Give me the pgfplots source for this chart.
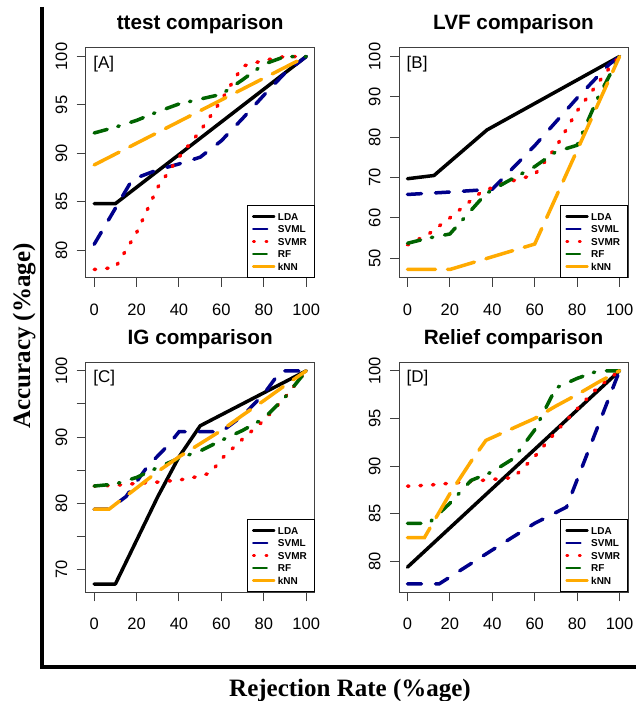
\documentclass[border=0pt]{standalone}
\usepackage{fontspec}
\setmainfont{Liberation Serif}
\setsansfont{Liberation Sans}
\usepackage{pgfplots}
\pgfplotsset{compat=1.18}

\definecolor{rblue}{RGB}{0,0,139}
\definecolor{rgreen}{RGB}{0,100,0}
\definecolor{rorange}{RGB}{255,170,0}

\pgfplotsset{
  rpanel/.style={
    scale only axis, width=229pt, height=230pt,
    xmin=-4, xmax=104, xtick={0,20,40,60,80,100},
    axis line style={draw=black!75, line width=1pt},
    tick style={draw=black!75, line width=1pt},
    tick align=outside, major tick length=9pt,
    xtick pos=bottom, ytick pos=left,
    /pgf/number format/assume math mode=true,
    ticklabel style={font=\sffamily\fontsize{16.5}{16.5}\selectfont},
    yticklabel style={rotate=90, anchor=south},
    xticklabel shift=13pt, yticklabel shift=6pt,
    title style={font=\sffamily\bfseries\fontsize{20.7}{20.7}\selectfont,
      at={(0.5,1)}, anchor=base, yshift=12pt},
    legend cell align=left,
    legend style={at={(1,0)}, anchor=south east, draw=black, line width=0.8pt,
      font=\sffamily\bfseries\fontsize{10}{10}\selectfont,
      nodes={inner sep=2.5pt, text height=7.5pt, text depth=0pt},
      inner xsep=5pt, inner ysep=5pt, row sep=0pt},
    legend image code/.code={\draw[#1, line width=2.4pt] (0pt,0pt) -- (21pt,0pt);},
  },
  lda/.style={black, line width=3.5pt, line cap=round, line join=round},
  svml/.style={rblue, line width=3.5pt, line cap=round, dash pattern=on 14pt off 14pt},
  svmr/.style={red, line width=3.5pt, line cap=round, dash pattern=on 1.5pt off 11pt},
  rf/.style={rgreen, line width=3.5pt, line cap=round, dash pattern=on 13.5pt off 11pt on 1.5pt off 12pt},
  knn/.style={rorange, line width=3.5pt, line cap=round, dash pattern=on 28pt off 12pt},
}

\newcommand{\panellabel}[1]{\node[anchor=north west, inner sep=0pt, xshift=7.5pt, yshift=-7.5pt,
  font=\sffamily\fontsize{17}{17}\selectfont] at (rel axis cs:0,1) {#1};}

\begin{document}
\begin{tikzpicture}[x=1pt, y=1pt]
\useasboundingbox (0,0) rectangle (636,701);

% outer frame
\draw[line width=4pt] (42,694) -- (42,34) -- (636,34);
\node[font=\bfseries\fontsize{25}{25}\selectfont, anchor=base] at (350,5) {Rejection Rate (\%age)};
\node[font=\bfseries\fontsize{25}{25}\selectfont, rotate=90, anchor=base] at (30,365) {Accuracy (\%age)};

% [A] ttest
\begin{axis}[rpanel, at={(85.7pt,423pt)}, anchor=south west,
  ymin=77.12, ymax=100.88, ytick={80,85,90,95,100},
  title={ttest comparison}]
\addplot[lda] coordinates {(0,84.8)(10,84.8)(100,100)};
\addplot[svml] coordinates {(0,80.6)(18,87.3)(30,88.3)(40,88.9)(50,89.6)(60,91.3)(70,93.6)(80,96.0)(90,98.3)(100,100)};
\addplot[svmr] coordinates {(0,78.0)(10,78.2)(20,81.8)(30,86.5)(40,89.6)(50,92.3)(60,95.5)(70,99.0)(80,99.6)(90,100)(100,100)};
\addplot[rf] coordinates {(0,92.1)(10,92.7)(20,93.4)(30,94.3)(40,95.1)(50,95.6)(60,96.1)(70,97.6)(80,99.2)(90,100)(100,100)};
\addplot[knn] coordinates {(0,88.8)(100,100)};
\legend{LDA,SVML,SVMR,RF,kNN}
\panellabel{[A]}
\end{axis}

% [B] LVF
\begin{axis}[rpanel, at={(399pt,423pt)}, anchor=south west,
  ymin=45.09, ymax=102.11, ytick={50,60,70,80,90,100},
  title={LVF comparison}]
\addplot[lda] coordinates {(0,69.7)(12.5,70.5)(37.5,81.8)(100,100)};
\addplot[svml] coordinates {(0,65.8)(20,66.4)(40,67.1)(60,77.9)(80,89.7)(95,98)(100,100)};
\addplot[svmr] coordinates {(0,53.3)(10,56)(20,60)(35,66.5)(45,68.5)(60,70.7)(70,77.5)(80,86.5)(95,97)(100,100)};
\addplot[rf] coordinates {(0,53.7)(10,55)(20,56)(37,66)(47,69)(60,72.7)(70,76.4)(80,78)(90,90)(100,100)};
\addplot[knn] coordinates {(0,47.2)(20,47.2)(60,53.5)(100,100)};
\legend{LDA,SVML,SVMR,RF,kNN}
\panellabel{[B]}
\end{axis}

% [C] IG
\begin{axis}[rpanel, at={(85.7pt,108.7pt)}, anchor=south west,
  ymin=66.55, ymax=101.29, ytick={70,75,80,85,90,95,100},
  yticklabels={70,,80,,90,,100},
  title={IG comparison}]
\addplot[lda] coordinates {(0,67.8)(10,67.8)(30,81)(40,87)(50,91.7)(100,100)};
\addplot[svml] coordinates {(0,79.1)(7,79.1)(15,81)(25,85.5)(35,88.8)(40,90.8)(60,90.8)(70,93.2)(80,96.5)(88,100)(100,100)};
\addplot[svmr] coordinates {(0,82.6)(10,82.7)(20,83)(30,83.2)(40,83.5)(50,84.1)(55,84.6)(60,86.7)(70,89.7)(80,92.5)(90,96)(100,100)};
\addplot[rf] coordinates {(0,82.6)(10,82.9)(20,83.9)(30,85.4)(40,86.8)(50,87.9)(60,89.5)(70,91)(80,92.8)(90,96)(100,100)};
\addplot[knn] coordinates {(0,79.1)(7,79.1)(20,82.3)(30,84.8)(40,87)(50,89)(60,91)(70,93.3)(80,95.5)(90,97.8)(100,100)};
\legend{LDA,SVML,SVMR,RF,kNN}
\panellabel{[C]}
\end{axis}

% [D] Relief
\begin{axis}[rpanel, at={(399pt,108.7pt)}, anchor=south west,
  ymin=76.76, ymax=100.89, ytick={80,85,90,95,100},
  title={Relief comparison}]
\addplot[lda] coordinates {(0,79.4)(100,100)};
\addplot[svml] coordinates {(0,77.65)(15,77.65)(40,81.2)(60,84)(75,85.7)(100,100)};
\addplot[svmr] coordinates {(0,87.9)(10,88)(20,88.2)(30,88.4)(40,88.6)(50,88.8)(60,91)(70,93.6)(80,96)(90,98.3)(100,100)};
\addplot[rf] coordinates {(0,84)(10,84)(20,86.1)(30,88.5)(40,89.4)(50,90.8)(60,93.8)(70,98.2)(80,99.2)(90,100)(100,100)};
\addplot[knn] coordinates {(0,82.5)(8,82.5)(20,87.1)(30,90.5)(37,92.7)(50,94)(60,95)(70,96.3)(80,97.5)(90,98.8)(100,100)};
\legend{LDA,SVML,SVMR,RF,kNN}
\panellabel{[D]}
\end{axis}
\end{tikzpicture}
\end{document}
